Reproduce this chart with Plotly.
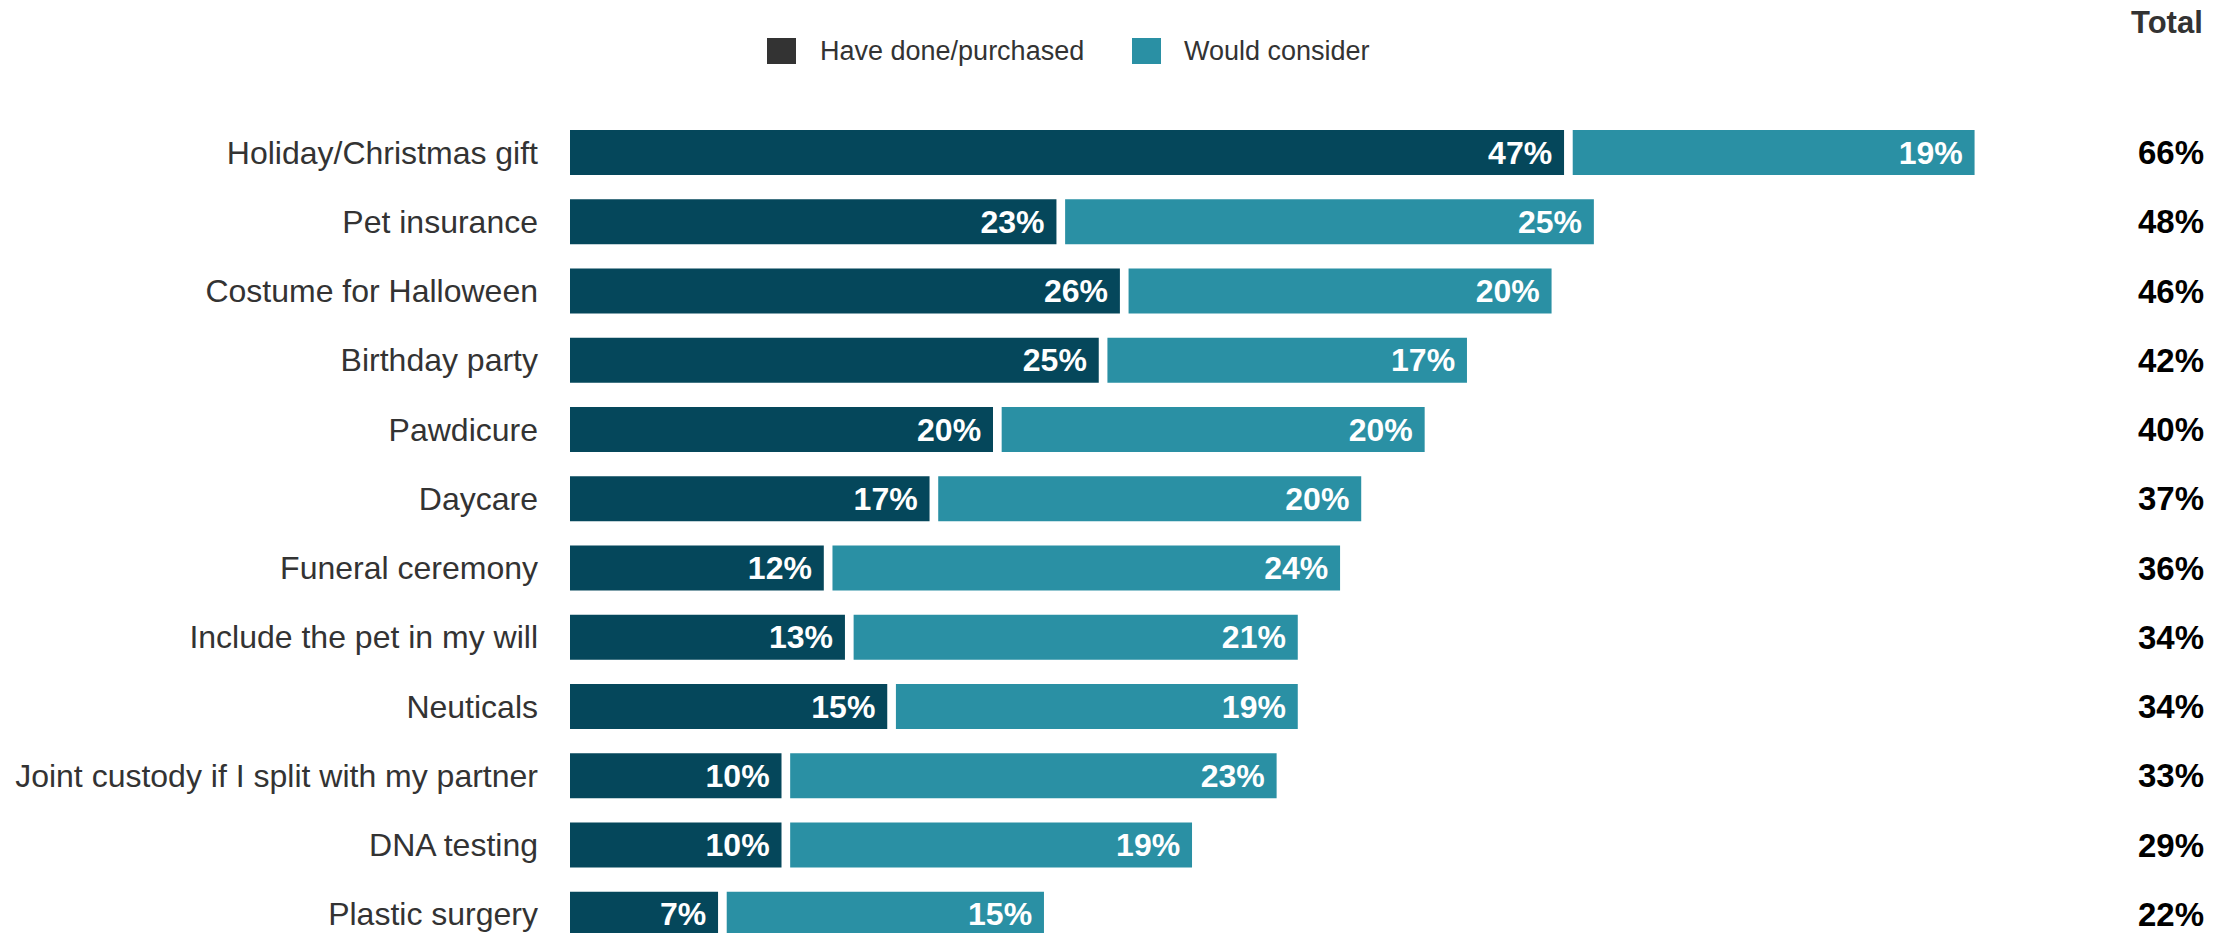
import plotly.graph_objects as go

categories = [
    "Holiday/Christmas gift", "Pet insurance", "Costume for Halloween",
    "Birthday party", "Pawdicure", "Daycare", "Funeral ceremony",
    "Include the pet in my will", "Neuticals",
    "Joint custody if I split with my partner", "DNA testing", "Plastic surgery",
]
have_done = [47, 23, 26, 25, 20, 17, 12, 13, 15, 10, 10, 7]
would_consider = [19, 25, 20, 17, 20, 20, 24, 21, 19, 23, 19, 15]
totals = [66, 48, 46, 42, 40, 37, 36, 34, 34, 33, 29, 22]
legend_names = ["Have done/purchased", "Would consider"]

W, H = 2236, 933
ML, MT = 570, 100
PX_PER_PCT = 21.15
GAP = 0.41
DARK = "#05475B"
TEAL = "#2A90A4"
LEG_DARK = "#333333"
FONT = "Liberation Sans, Arial, sans-serif"

fig = go.Figure()
fig.add_trace(go.Bar(
    y=categories, x=have_done, orientation="h", marker=dict(color=DARK, line_width=0),
    width=0.65, texttemplate="%{x}%\u00a0", textposition="inside", insidetextanchor="end",
    textfont=dict(color="white", size=32, family=FONT, weight="bold"),
    showlegend=False, hoverinfo="skip",
))
fig.add_trace(go.Bar(
    y=categories, x=would_consider, base=[d + GAP for d in have_done], orientation="h",
    marker=dict(color=TEAL, line_width=0),
    width=0.65, texttemplate="%{x}%\u00a0", textposition="inside", insidetextanchor="end",
    textfont=dict(color="white", size=32, family=FONT, weight="bold"),
    showlegend=False, hoverinfo="skip",
))

plot_w = W - ML
plot_h = H - MT
row_px = 69.25
r0 = -(152.5 - MT) / row_px
r1 = r0 + plot_h / row_px

def px_x(px):
    return (px - ML) / plot_w

def px_y(py):
    return 1 - (py - MT) / plot_h

annotations = []
for i, t in enumerate(totals):
    annotations.append(dict(
        x=px_x(2206), xref="paper", y=categories[i], yref="y", text=f"{t}%",
        showarrow=False, xanchor="right", yanchor="middle",
        font=dict(size=33, family=FONT, color="#000000", weight="bold"),
    ))
annotations.append(dict(
    x=px_x(2205), xref="paper", y=px_y(23), yref="paper", text="Total",
    showarrow=False, xanchor="right", yanchor="middle",
    font=dict(size=31, family=FONT, color="#333333", weight="bold"),
))

shapes = []
leg_items = [(767, LEG_DARK, legend_names[0], 818), (1132, TEAL, legend_names[1], 1182)]
for x0, col, name, tx in leg_items:
    shapes.append(dict(type="rect", xref="paper", yref="paper",
                       x0=px_x(x0), x1=px_x(x0 + 29), y0=px_y(64), y1=px_y(38),
                       fillcolor=col, line_width=0))
    annotations.append(dict(
        x=px_x(tx), xref="paper", y=px_y(51), yref="paper", text=name,
        showarrow=False, xanchor="left", yanchor="middle",
        font=dict(size=27, family=FONT, color="#333333"),
    ))

fig.update_layout(
    width=W, height=H, autosize=False,
    margin=dict(l=ML, r=0, t=MT, b=0, pad=0),
    paper_bgcolor="white", plot_bgcolor="white",
    barmode="overlay",
    xaxis=dict(range=[0, plot_w / PX_PER_PCT], visible=False, fixedrange=True),
    yaxis=dict(type="category", categoryorder="array", categoryarray=categories,
               range=[r1, r0], autorange=False, showgrid=False, zeroline=False,
               showline=False, ticks="", ticklabelstandoff=31, fixedrange=True,
               tickfont=dict(size=32, family=FONT, color="#333333")),
    annotations=annotations, shapes=shapes,
    font=dict(family=FONT),
)

fig.write_html(
    "out.html",
    config={"displayModeBar": False},
    post_script="document.body.style.margin='0';document.body.style.padding='0';"
                "document.body.style.overflow='hidden';",
)
